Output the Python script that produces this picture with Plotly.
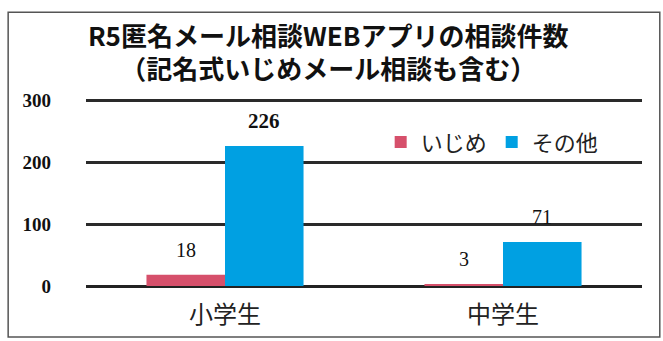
import plotly.graph_objects as go

# 相談件数（R5）
categories = ["小学生", "中学生"]
ijime = [18, 3]
sonota = [226, 71]
series_names = ["いじめ", "その他"]
y_ticks = [0, 100, 200, 300]

PINK = "#d6506b"
BLUE = "#00a0e2"
SERIF = "Liberation Serif, Times New Roman, serif"
CJK = "Noto Sans CJK JP, sans-serif"

fig = go.Figure()
fig.add_trace(go.Bar(x=categories, y=ijime, name=series_names[0],
                     marker=dict(color=PINK, line=dict(width=0))))
fig.add_trace(go.Bar(x=categories, y=sonota, name=series_names[1],
                     marker=dict(color=BLUE, line=dict(width=0))))

# value labels above each bar
for vals, shift, bold in ((ijime, -39, False), (sonota, 39, None)):
    for cat, v in zip(categories, vals):
        is_bold = (v == max(sonota)) if bold is None else bold
        fig.add_annotation(
            x=cat, y=v, xref="x", yref="y", xshift=shift, yshift=25,
            text=f"<b>{v}</b>" if is_bold else str(v),
            showarrow=False, yanchor="middle",
            font=dict(family=SERIF, size=21 if is_bold else 20, color="#111"),
        )

# outer frame of the chart
fig.add_shape(type="rect", xref="paper", yref="paper",
              x0=-0.14, x1=1.032, y0=-0.265, y1=1.4256,
              line=dict(color="#555", width=1.5), layer="below")

fig.update_layout(
    width=663, height=341,
    margin=dict(l=86, r=21, t=94, b=55),
    paper_bgcolor="white", plot_bgcolor="white",
    barmode="group", bargap=0.435, bargroupgap=0,
    title=dict(
        text="<b>R5匿名メール相談WEBアプリの相談件数<br>（記名式いじめメール相談も含む）</b>",
        x=0.495, xref="container", xanchor="center",
        y=0.866, yref="container", yanchor="middle",
        font=dict(family=CJK, size=26, color="#111"),
    ),
    legend=dict(
        orientation="h", x=0.53, y=0.749, xanchor="left", yanchor="middle",
        font=dict(family=CJK, size=22, color="#222"),
        bgcolor="rgba(0,0,0,0)", itemclick=False,
    ),
    xaxis=dict(
        showgrid=False, showline=False, ticks="",
        tickfont=dict(family=CJK, size=24, color="#222"),
        ticklabelstandoff=12,
    ),
    yaxis=dict(
        range=[0, 310], tickvals=y_ticks,
        ticktext=[f"<b>{t}</b>" for t in y_ticks],
        showgrid=True, gridcolor="#2a2a2a", gridwidth=2.5,
        zeroline=True, zerolinecolor="#222", zerolinewidth=3,
        showline=False, ticks="",
        tickfont=dict(family=SERIF, size=19, color="#111"),
        ticklabelstandoff=34,
    ),
)

fig.write_html("out.html")
